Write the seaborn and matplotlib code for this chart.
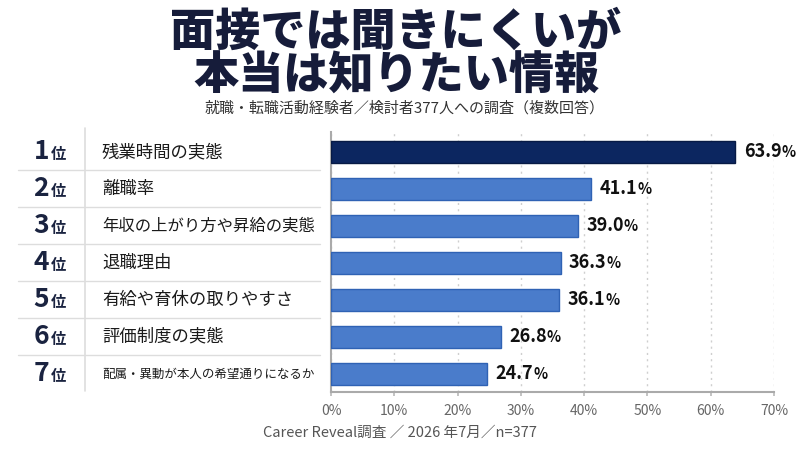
import matplotlib
matplotlib.use("Agg")
import matplotlib.pyplot as plt
import matplotlib.transforms as mtrans
from matplotlib.lines import Line2D
import seaborn as sns

# data
ranks = ["1", "2", "3", "4", "5", "6", "7"]
labels = [
    "残業時間の実態",
    "離職率",
    "年収の上がり方や昇給の実態",
    "退職理由",
    "有給や育休の取りやすさ",
    "評価制度の実態",
    "配属・異動が本人の希望通りになるか",
]
values = [63.9, 41.1, 39.0, 36.3, 36.1, 26.8, 24.7]
xticks = [0, 10, 20, 30, 40, 50, 60, 70]

title_lines = ["面接では聞きにくいが", "本当は知りたい情報"]
subtitle = "就職・転職活動経験者／検討者377人への調査（複数回答）"
footer = "Career Reveal調査 ／ 2026 年7月／n=377"

sns.set_theme(style="white")
plt.rcParams["font.family"] = ["Noto Sans CJK JP", "DejaVu Sans"]

navy = "#0c2660"
blue = "#4a7ccb"
colors = [navy] + [blue] * (len(labels) - 1)
edges = ["#071a45"] + ["#2f62b4"] * (len(labels) - 1)

fig = plt.figure(figsize=(8, 4.5), dpi=100)
fig.patch.set_facecolor("white")
ax = fig.add_axes([0.41375, 0.1289, 0.55375, 0.5778])

sns.barplot(x=values, y=labels, hue=labels, palette=colors, legend=False,
            orient="h", width=0.6, saturation=1, ax=ax, zorder=3)
for patch, ec in zip(ax.patches, edges):
    patch.set_edgecolor(ec)
    patch.set_linewidth(1.0)

ax.set_xlim(0, 70)
ax.set_ylim(6.49, -0.54)
ax.set_xticks(xticks)
ax.set_xticklabels([f"{t}%" for t in xticks], fontsize=10, color="#666666")
ax.set_yticks([])
ax.set_xlabel("")
ax.set_ylabel("")
ax.tick_params(axis="x", length=3, color="#bbbbbb", pad=6, bottom=True)
ax.xaxis.grid(True, linestyle=(0, (1.5, 3)), color="#cfcfcf", linewidth=1)
ax.set_axisbelow(True)
for s in ["top", "right"]:
    ax.spines[s].set_visible(False)
for s in ["left", "bottom"]:
    ax.spines[s].set_color("#aaaaaa")
    ax.spines[s].set_linewidth(1.5)

# value labels with a smaller percent sign
for i, v in enumerate(values):
    t = ax.annotate(f"{v:.1f}", xy=(v, i), xytext=(6, 0), textcoords="offset points",
                    ha="left", va="center", fontsize=13, fontweight="bold", color="#111111")
    ax.annotate("%", xy=(1, 0.08), xycoords=t, ha="left", va="bottom",
                fontsize=10.5, fontweight="bold", color="#111111")

# left-hand table: ranks and item names
blend = mtrans.blended_transform_factory(fig.transFigure, ax.transData)
for i, (r, lab) in enumerate(zip(ranks, labels)):
    fig.text(49 / 800, i, r, transform=blend, ha="right", va="center",
             fontsize=19, fontweight="bold", color="#1a2340")
    fig.text(51 / 800, i + 0.06, "位", transform=blend, ha="left", va="center",
             fontsize=11, fontweight="bold", color="#1a2340")
    fs = min(12.5, 153 / len(lab))  # long names shrink to fit the column
    fig.text(102 / 800, i, lab, transform=blend, ha="left", va="center",
             fontsize=fs, color="#1a1a1a")
for i in range(len(labels) - 1):
    fig.add_artist(Line2D([18 / 800, 320 / 800], [i + 0.5, i + 0.5], transform=blend,
                          color="#dddddd", linewidth=1))
fig.add_artist(Line2D([85 / 800, 85 / 800], [-0.65, 6.45], transform=blend,
                      color="#dddddd", linewidth=1.2))

# titles and footer
fig.text(0.495, 1 - 32 / 450, title_lines[0], ha="center", va="center",
         fontsize=32.5, fontweight="heavy", color="#161c3a")
fig.text(0.495, 1 - 76 / 450, title_lines[1], ha="center", va="center",
         fontsize=32.5, fontweight="heavy", color="#161c3a")
fig.text(405 / 800, 1 - 108 / 450, subtitle, ha="center", va="center",
         fontsize=10.8, color="#333333")
fig.text(0.5, 1 - 433 / 450, footer, ha="center", va="center",
         fontsize=10.5, color="#555555")

fig.savefig("out.png", dpi=100, facecolor="white")
